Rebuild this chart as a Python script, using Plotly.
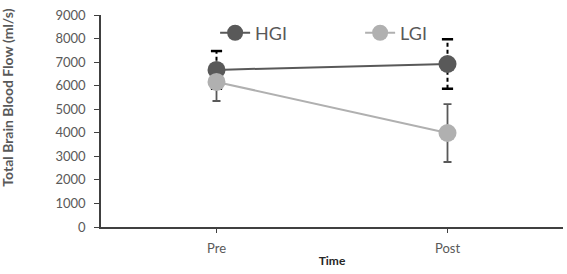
import plotly.graph_objects as go

categories = ["Pre", "Post"]
hgi_values = [6670, 6920]
hgi_errors = [800, 1050]
lgi_values = [6160, 3990]
lgi_errors = [810, 1230]
y_ticks = [0, 1000, 2000, 3000, 4000, 5000, 6000, 7000, 8000, 9000]

HGI_COLOR = "#595959"
LGI_COLOR = "#b0b0b0"
FONT = "Lato"

fig = go.Figure()

# HGI error bars (dashed, black)
ex, ey = [], []
for c, v, e in zip(categories, hgi_values, hgi_errors):
    ex += [c, c, None]
    ey += [v - e, v + e, None]
fig.add_trace(go.Scatter(
    x=ex, y=ey, mode="lines+markers",
    line=dict(color="black", width=2, dash="4px,3px"),
    marker=dict(symbol="line-ew-open", size=8, line=dict(color="black", width=2.5)),
    showlegend=False, hoverinfo="skip"))

# LGI error bars
fig.add_trace(go.Scatter(
    x=categories, y=lgi_values, mode="markers",
    marker=dict(size=1, color="rgba(0,0,0,0)"),
    error_y=dict(type="data", array=lgi_errors, color="#595959", thickness=1.8, width=4),
    showlegend=False, hoverinfo="skip"))

fig.add_trace(go.Scatter(
    x=categories, y=hgi_values, name="HGI", mode="lines+markers",
    line=dict(color=HGI_COLOR, width=2),
    marker=dict(color=HGI_COLOR, size=18)))
fig.add_trace(go.Scatter(
    x=categories, y=lgi_values, name="LGI", mode="lines+markers",
    line=dict(color=LGI_COLOR, width=2),
    marker=dict(color=LGI_COLOR, size=18)))

fig.update_layout(
    width=567, height=274,
    margin=dict(l=101, r=4, t=15, b=47),
    paper_bgcolor="white", plot_bgcolor="white",
    font=dict(family=FONT, color="#595959", size=13),
    legend=dict(orientation="h", x=0.247, y=0.915, xanchor="left", yanchor="middle",
                font=dict(size=18, color="#595959"), entrywidth=100,
                bgcolor="rgba(0,0,0,0)"),
    xaxis=dict(type="category", range=[-0.5, 1.5], showline=True, linecolor="#404040",
               linewidth=1.5, ticks="outside", ticklen=4, tickcolor="#404040",
               ticklabelstandoff=5,
               tickfont=dict(size=13, color="#595959"),
               title=dict(text="<b>Time</b>", font=dict(size=12, color="#262626"), standoff=1),
               showgrid=False, zeroline=False),
    yaxis=dict(range=[0, 9000], tickvals=y_ticks, showline=True, linecolor="#404040",
               linewidth=1.5, ticks="outside", ticklen=5, tickcolor="#404040",
               ticklabelstandoff=6,
               tickfont=dict(size=13, color="#595959"),
               showgrid=False, zeroline=False),
    annotations=[dict(text="<b>Total Brain Blood Flow (ml/s)</b>", textangle=-90,
                      xref="paper", yref="paper", x=-0.2013, y=0.61,
                      xanchor="center", yanchor="middle", showarrow=False,
                      font=dict(size=14, color="#595959", family=FONT))],
)

fig.write_html("out.html")
